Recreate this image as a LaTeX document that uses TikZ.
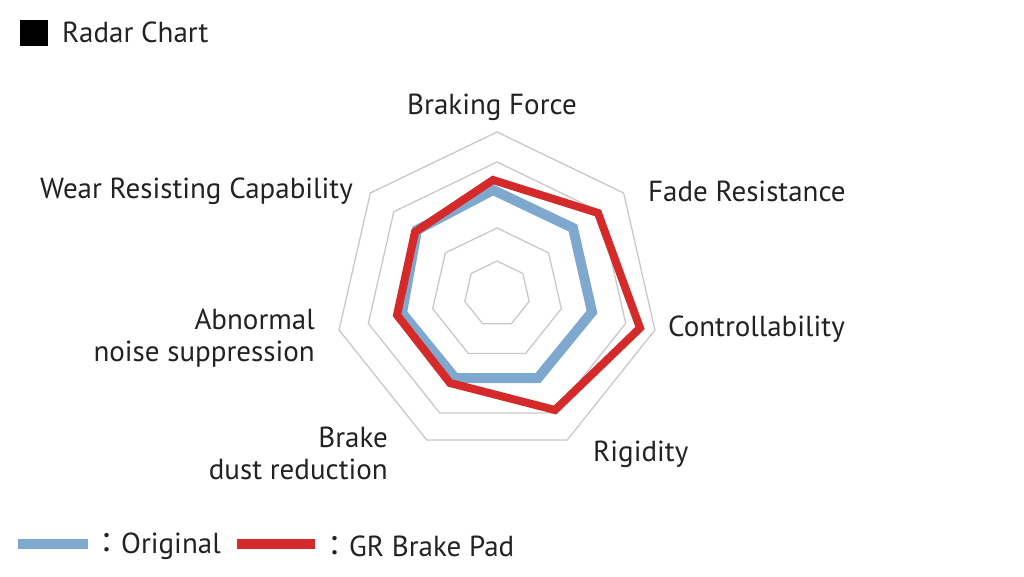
\documentclass[tikz,border=0pt]{standalone}
\usepackage{fontspec}
\usetikzlibrary{calc}
\setmainfont{PT Sans}
\newfontfamily\cjk{Noto Sans CJK JP}
\definecolor{grid}{HTML}{C8C8C8}
\definecolor{orig}{HTML}{7FA8CF}
\definecolor{gr}{HTML}{D42A2A}
\definecolor{txt}{HTML}{222222}
\begin{document}
\begin{tikzpicture}[x=1pt,y=-1pt,
  lab/.style={font=\fontsize{29}{32}\selectfont, text=txt, inner sep=0pt},
  gridline/.style={draw=grid, line width=1.3pt},
  origline/.style={draw=orig, line width=10pt, line join=miter},
  grline/.style={draw=gr, line width=8pt, line join=miter}]
\useasboundingbox (0,0) rectangle (1024,577);
\coordinate (c) at (497,294);
\foreach \r in {33,66,132,162}{
  \draw[gridline] ($(c)+(-90:\r)$) \foreach \k in {1,...,6}{ -- ($(c)+(-90+\k*360/7:\r)$)} -- cycle;
}
\draw[origline] (493,190) -- (573,228) -- (592,312) -- (538,378) -- (455,378) -- (402,313) -- (417,230) -- cycle;
\draw[grline] (493,180) -- (598,213) -- (640,328) -- (555,410) -- (450,383) -- (397,315) -- (415,232) -- cycle;
\node[lab] (bf) at (492,107) {Braking Force};
\node[lab, anchor=west] (fr) at (648,191) {Fade Resistance};
\node[lab, anchor=west] (co) at (668,329) {Controllability};
\node[lab, anchor=west] (ri) at (593,454) {Rigidity};
\node[lab, anchor=east, align=right] (bd) at (388,453) {Brake\\dust reduction};
\node[lab, anchor=east, align=right] (an) at (315,338) {Abnormal\\noise suppression};
\node[lab, anchor=east] (wr) at (353,191) {Wear Resisting Capability};
\fill[black] (20,20) rectangle (48,46);
\node[lab, anchor=west] (title) at (62,32) {Radar Chart};
\draw[orig, line width=10pt] (18,544) -- (88,544);
\node[lab, anchor=west] (lo) at (92,546) {{\cjk ：}Original};
\draw[gr, line width=10pt] (237,544) -- (315,544);
\node[lab, anchor=west] (lg) at (320,546) {{\cjk ：}GR Brake Pad};
\end{tikzpicture}
\end{document}
